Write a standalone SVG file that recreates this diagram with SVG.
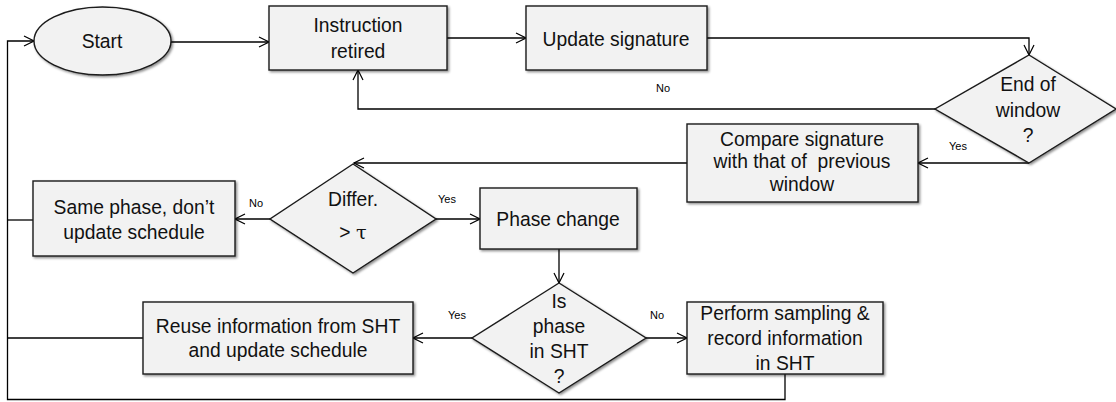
<svg xmlns="http://www.w3.org/2000/svg" width="1116" height="402" viewBox="0 0 1116 402">
  <defs>
    <marker id="arrow" viewBox="0 0 12 12" refX="11" refY="6" markerWidth="12" markerHeight="12" markerUnits="userSpaceOnUse" orient="auto">
      <path d="M1,1 L11,6 L1,11" fill="none" stroke="#000" stroke-width="1.2"/>
    </marker>
    <filter id="shadow" x="-10%" y="-10%" width="130%" height="130%">
      <feDropShadow dx="1.5" dy="1.5" stdDeviation="1" flood-color="#000" flood-opacity="0.45"/>
    </filter>
  </defs>
  <style>
    .shape { fill: #f2f2f2; stroke: #1a1a1a; stroke-width: 1.4; filter: url(#shadow); }
    .label { font-family: "Liberation Sans", Arial, sans-serif; font-size: 19.3px; fill: #111; text-anchor: middle; }
    .tag { font-family: "Liberation Sans", Arial, sans-serif; font-size: 11px; fill: #000; text-anchor: middle; }
    .edge { fill: none; stroke: #000; stroke-width: 1.3; }
    .tau { font-family: "DejaVu Serif", "Liberation Serif", serif; }
  </style>
  <rect width="1116" height="402" fill="#fff"/>

  <!-- connectors -->
  <g id="connectors">
    <path class="edge" d="M171,42 L269,42" marker-end="url(#arrow)"/>
    <path class="edge" d="M447,38 L526,38" marker-end="url(#arrow)"/>
    <path class="edge" d="M707,38 L1029,38 L1029,55" marker-end="url(#arrow)"/>
    <path class="edge" d="M935,109 L358,109 L358,70" marker-end="url(#arrow)"/>
    <path class="edge" d="M1029,163 L918,163" marker-end="url(#arrow)"/>
    <path class="edge" d="M687,163 L354,163" marker-end="url(#arrow)"/>
    <path class="edge" d="M270,219 L235,219" marker-end="url(#arrow)"/>
    <path class="edge" d="M436,219 L480,219" marker-end="url(#arrow)"/>
    <path class="edge" d="M559,249 L559,283" marker-end="url(#arrow)"/>
    <path class="edge" d="M472,338 L413,338" marker-end="url(#arrow)"/>
    <path class="edge" d="M646,338 L687,338" marker-end="url(#arrow)"/>
    <path class="edge" d="M33,220 L7.5,220"/>
    <path class="edge" d="M143,338 L7.5,338"/>
    <path class="edge" d="M785,374 L785,399.5 L7.5,399.5 L7.5,41 L34,41" marker-end="url(#arrow)"/>
    <text class="tag" x="663" y="92">No</text>
    <text class="tag" x="958" y="150">Yes</text>
    <text class="tag" x="256" y="207">No</text>
    <text class="tag" x="447" y="203">Yes</text>
    <text class="tag" x="457" y="319">Yes</text>
    <text class="tag" x="657" y="319">No</text>
  </g>

  <g id="start">
    <ellipse class="shape" cx="102.5" cy="41" rx="68.5" ry="34"/>
    <text class="label" x="102" y="48">Start</text>
  </g>

  <g id="instruction-retired">
    <rect class="shape" x="269" y="6" width="178" height="64"/>
    <text class="label" x="358" y="32">Instruction</text>
    <text class="label" x="358" y="58">retired</text>
  </g>

  <g id="update-signature">
    <rect class="shape" x="526" y="6" width="181" height="64"/>
    <text class="label" x="616" y="46">Update signature</text>
  </g>

  <g id="end-of-window">
    <polygon class="shape" points="1029,55 1116,109 1029,163 935,109"/>
    <text class="label" x="1028" y="91">End of</text>
    <text class="label" x="1028" y="117">window</text>
    <text class="label" x="1028" y="142">?</text>
  </g>

  <g id="compare-signature">
    <rect class="shape" x="687" y="124" width="231" height="78"/>
    <text class="label" x="802" y="146">Compare signature</text>
    <text class="label" x="802" y="168" xml:space="preserve">with that of  previous</text>
    <text class="label" x="802" y="191">window</text>
  </g>

  <g id="differ">
    <polygon class="shape" points="353,164 436,219 353,273 270,219"/>
    <text class="label" x="353" y="206">Differ.</text>
    <text class="label" x="353" y="239">&gt; <tspan class="tau">τ</tspan></text>
  </g>

  <g id="same-phase">
    <rect class="shape" x="33" y="181" width="202" height="75"/>
    <text class="label" x="134" y="214">Same phase, don’t</text>
    <text class="label" x="134" y="239">update schedule</text>
  </g>

  <g id="phase-change">
    <rect class="shape" x="480" y="188" width="157" height="61"/>
    <text class="label" x="558" y="226">Phase change</text>
  </g>

  <g id="is-phase-in-sht">
    <polygon class="shape" points="559,283 646,338 559,393 472,338"/>
    <text class="label" x="559" y="308">Is</text>
    <text class="label" x="559" y="333">phase</text>
    <text class="label" x="559" y="358">in SHT</text>
    <text class="label" x="559" y="383">?</text>
  </g>

  <g id="reuse-information">
    <rect class="shape" x="143" y="302" width="270" height="72"/>
    <text class="label" x="278" y="333">Reuse information from SHT</text>
    <text class="label" x="278" y="357">and update schedule</text>
  </g>

  <g id="perform-sampling">
    <rect class="shape" x="687" y="302" width="196" height="72"/>
    <text class="label" x="785" y="320">Perform sampling &amp;</text>
    <text class="label" x="785" y="345">record information</text>
    <text class="label" x="785" y="370">in SHT</text>
  </g>
</svg>
